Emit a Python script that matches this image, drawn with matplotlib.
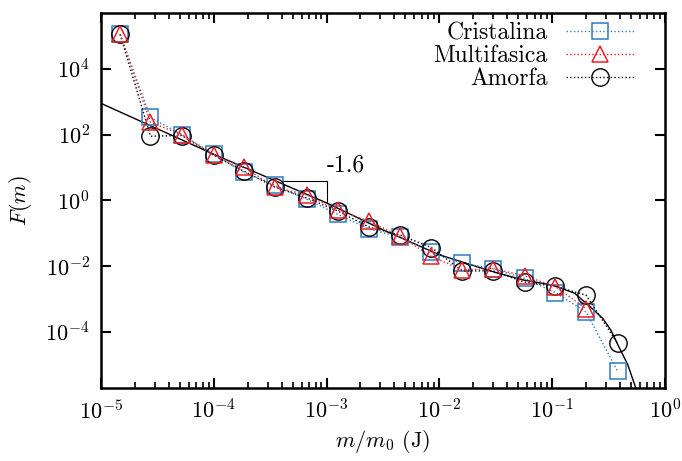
import numpy as np
import matplotlib
matplotlib.use("Agg")
import matplotlib.pyplot as plt
from matplotlib.ticker import LogLocator, NullFormatter, NullLocator

plt.rcParams['font.family'] = 'serif'
plt.rcParams['font.serif'] = ['cmr10', 'DejaVu Serif']
plt.rcParams['mathtext.fontset'] = 'cm'
plt.rcParams['axes.unicode_minus'] = False

# mass bins m/m0
m_bins = [1.48e-5, 2.75e-5, 5.2e-5, 1.0e-4, 1.86e-4, 3.5e-4, 6.7e-4, 1.26e-3,
          2.4e-3, 4.5e-3, 8.5e-3, 1.6e-2, 3.0e-2, 5.7e-2, 1.07e-1, 2.0e-1, 3.8e-1]

# log10 F(m) for each sample
logF_cristalina = [5.05, 2.52, 2.00, 1.40, 0.85, 0.45, 0.03, -0.43, -0.88, -1.12,
                   -1.58, -1.92, -2.08, -2.38, -2.81, -3.40, -5.20]
logF_multifasica = [5.05, 2.37, 2.00, 1.37, 1.00, 0.40, 0.16, -0.30, -0.64, -1.10,
                    -1.71, -2.12, -2.08, -2.30, -2.63, -3.30]
logF_amorfa = [5.05, 1.95, 1.97, 1.37, 0.88, 0.40, 0.07, -0.33, -0.82, -1.06,
               -1.44, -2.15, -2.15, -2.49, -2.62, -2.89, -4.35]

# fitted curve
logm_fit = [-5.0, -4.0, -3.0, -2.5, -2.0, -1.5, -1.25, -1.0, -0.8, -0.66,
            -0.55, -0.48, -0.41, -0.33, -0.26, -0.2]
logF_fit = [2.95, 1.40, -0.08, -0.90, -1.66, -2.20, -2.43, -2.58, -2.83, -3.25,
            -3.60, -3.95, -4.45, -5.00, -5.70, -6.30]

# slope guide triangle
tri_x = [4.1e-4, 1.0e-3, 1.0e-3]
tri_y = [3.8, 3.8, 0.91]

blue = '#2f7bbf'
red = '#e8202a'
fs = 16

fig = plt.figure(figsize=(6.82, 4.61), dpi=100)
ax = fig.add_axes([0.148, 0.1594, 0.827, 0.8124])

m = np.array(m_bins)
ax.plot(10 ** np.array(logm_fit), 10 ** np.array(logF_fit), color='black', lw=1.0, zorder=2)
ax.plot(tri_x, tri_y, color='black', lw=0.8, zorder=2)

ax.plot(m, 10 ** np.array(logF_cristalina), ls=':', lw=1.0, color=blue,
        marker='s', ms=11.5, mfc='none', mec=blue, mew=1.1, label='Cristalina', zorder=3)
ax.plot(m[:len(logF_multifasica)], 10 ** np.array(logF_multifasica), ls=':', lw=1.0, color=red,
        marker='^', ms=11.5, mfc='none', mec=red, mew=1.1, label='Multifasica', zorder=4)
ax.plot(m, 10 ** np.array(logF_amorfa), ls=':', lw=1.0, color='black',
        marker='o', ms=12.5, mfc='none', mec='black', mew=1.0, label='Amorfa', zorder=3)

ax.text(1.0e-3, 11.6, '-1.6', fontsize=17, ha='left', va='center')

ax.set_xscale('log')
ax.set_yscale('log')
ax.set_xlim(1e-5, 1.0)
ax.set_ylim(2e-6, 5e5)

ax.xaxis.set_major_locator(LogLocator(base=10, numticks=10))
ax.xaxis.set_minor_locator(LogLocator(base=10, subs=np.arange(2, 10), numticks=20))
ax.xaxis.set_minor_formatter(NullFormatter())
ax.set_yticks([1e-4, 1e-2, 1e0, 1e2, 1e4])
ax.yaxis.set_minor_locator(NullLocator())

ax.tick_params(which='both', direction='in', top=True, right=True, labelsize=fs)
ax.tick_params(which='major', length=7, width=1.5, pad=8)
ax.tick_params(which='minor', length=4, width=1.2)
for s in ax.spines.values():
    s.set_linewidth(1.8)

ax.set_xlabel(r'$m/m_0$ (J)', fontsize=fs, labelpad=4)
ax.set_ylabel(r'$F(m)$', fontsize=fs, labelpad=8)

leg = ax.legend(loc='upper right', frameon=False, markerfirst=False, fontsize=17,
                handlelength=2.9, handletextpad=0.75, labelspacing=0.02,
                borderaxespad=0.0, bbox_to_anchor=(0.962, 1.0))

fig.savefig('out.png', dpi=100)
